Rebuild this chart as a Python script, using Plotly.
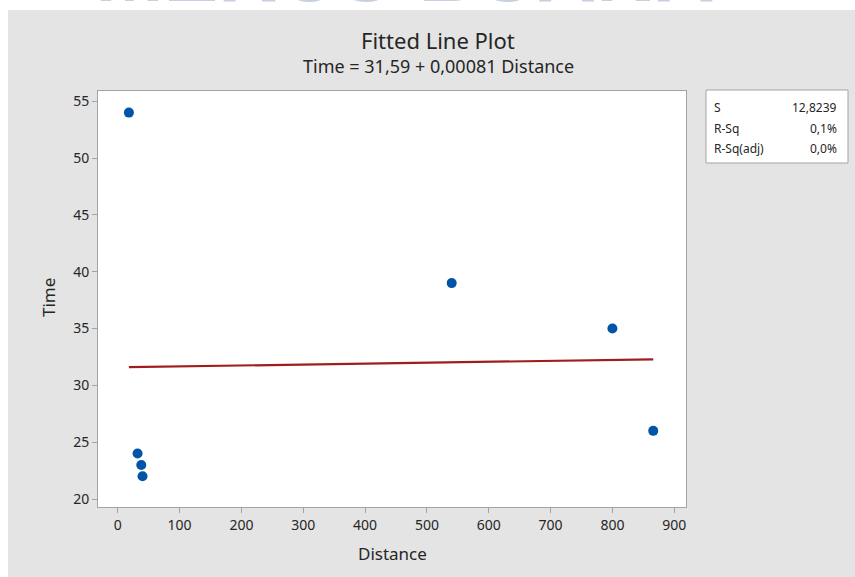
import plotly.graph_objects as go
import numpy as np

# ---- data ----
distance = [18, 32, 38, 40, 540, 800, 866]
time_vals = [54, 24, 23, 22, 39, 35, 26]
intercept = 31.59
slope = 0.00081
stat_names = ["S", "R-Sq", "R-Sq(adj)"]
stat_values = ["12,8239", "0,1%", "0,0%"]
x_ticks = [0, 100, 200, 300, 400, 500, 600, 700, 800, 900]
y_ticks = [20, 25, 30, 35, 40, 45, 50, 55]
watermark = "MERCU BUANA"

W, H = 855, 577
FONT = "Noto Sans"
TXT = "#262626"

def px(x):
    return x / W

def py(y):
    return 1 - y / H

fit_x = np.array([min(distance), max(distance)])
fit_y = intercept + slope * fit_x

fig = go.Figure()

# watermark (clipped to the strip above the grey panel)
fig.add_trace(go.Scatter(
    x=[405], y=[20], mode="text", text=["<b>" + watermark + "</b>"],
    textposition="middle center",
    textfont=dict(family="Liberation Sans", size=82, color="#c6d0e1"),
    xaxis="x2", yaxis="y2", cliponaxis=True, showlegend=False, hoverinfo="skip"))

fig.add_trace(go.Scatter(
    x=fit_x, y=fit_y, mode="lines",
    line=dict(color="#a11d1d", width=2.2), showlegend=False))
fig.add_trace(go.Scatter(
    x=distance, y=time_vals, mode="markers",
    marker=dict(color="#0055a8", size=10), showlegend=False))

axis_common = dict(
    showgrid=False, zeroline=False, showline=True, mirror=True,
    linecolor="#a3a3a3", linewidth=1,
    ticks="outside", ticklen=5, tickcolor="#a3a3a3",
    tickfont=dict(family=FONT, size=14, color=TXT),
)

fig.update_layout(
    width=W, height=H,
    margin=dict(l=0, r=0, t=0, b=0),
    paper_bgcolor="white",
    plot_bgcolor="rgba(0,0,0,0)",
    xaxis=dict(domain=[px(98), px(686)], range=[-32, 919],
               tickvals=x_ticks, anchor="y", **axis_common),
    yaxis=dict(domain=[py(507), py(91)], range=[19.3, 55.9],
               tickvals=y_ticks, anchor="x", **axis_common),
    xaxis2=dict(domain=[0, 1], range=[0, W], visible=False, anchor="y2"),
    yaxis2=dict(domain=[py(10), 1], range=[-10, 0], visible=False, anchor="x2"),
    shapes=[
        dict(type="rect", xref="paper", yref="paper", layer="below",
             x0=px(8), x1=1.01, y0=-0.01, y1=py(10),
             fillcolor="#e4e4e4", line=dict(width=0)),
        dict(type="rect", xref="paper", yref="paper", layer="below",
             x0=px(98), x1=px(686), y0=py(507), y1=py(91),
             fillcolor="white", line=dict(width=0)),
        dict(type="rect", xref="paper", yref="paper", layer="below",
             x0=px(706), x1=px(848), y0=py(163), y1=py(90),
             fillcolor="white", line=dict(color="#a3a3a3", width=1)),
    ],
)

ann = [
    dict(text="Fitted Line Plot", x=px(438), y=py(40), font=dict(size=22)),
    dict(text="Time = 31,59 + 0,00081 Distance", x=px(438), y=py(66), font=dict(size=18)),
    dict(text="Distance", x=px(392), y=py(553), font=dict(size=17)),
    dict(text="Time", x=px(48), y=py(298), font=dict(size=17), textangle=-90),
]
rows_y = [108, 128, 148]
for name, val, ry in zip(stat_names, stat_values, rows_y):
    ann.append(dict(text=name, x=px(712), y=py(ry), xanchor="left", font=dict(size=12)))
    ann.append(dict(text=val, x=px(839), y=py(ry), xanchor="right", font=dict(size=12)))

for a in ann:
    a.setdefault("xanchor", "center")
    a.update(xref="paper", yref="paper", yanchor="middle", showarrow=False)
    a["font"] = dict(family=FONT, color=TXT, **a["font"])
    fig.add_annotation(**a)

fig.write_html("out.html", config={"displayModeBar": False},
               post_script="document.body.style.margin='0';document.body.style.overflow='hidden';")
